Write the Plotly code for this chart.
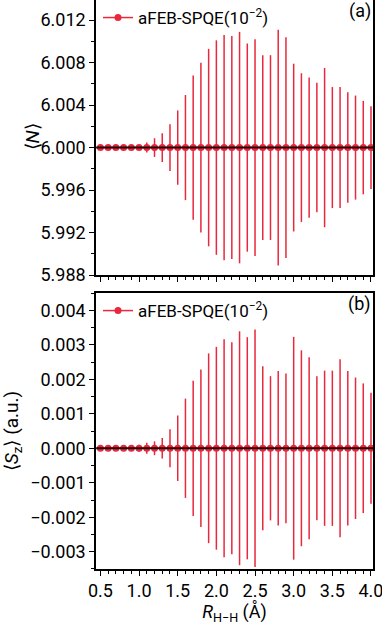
import plotly.graph_objects as go

R = [round(0.5 + 0.1 * i, 1) for i in range(36)]

N_mean = [6.000] * 36
N_err = [0, 0, 0, 0, 0, 0.0002, 0.00047, 0.00088, 0.00135, 0.0022, 0.0035, 0.00495,
         0.0068, 0.0080, 0.0093, 0.0101, 0.0106, 0.0105, 0.0109, 0.0098, 0.0102, 0.0087,
         0.0087, 0.0111, 0.0104, 0.0079, 0.0070, 0.0066, 0.0061, 0.0075, 0.0057, 0.0057,
         0.0052, 0.0049, 0.0044, 0.0039]

Sz_mean = [0.0] * 36
Sz_err = [0, 0, 0, 0, 0, 0.0001, 0.00016, 0.0002, 0.0003, 0.00055, 0.00095, 0.00144,
          0.00196, 0.00228, 0.00275, 0.00294, 0.00316, 0.00307, 0.00339, 0.00322, 0.00344,
          0.00238, 0.00209, 0.00224, 0.00217, 0.00323, 0.00284, 0.00264, 0.00209, 0.00225,
          0.00225, 0.00258, 0.00224, 0.00205, 0.00188, 0.00161]

x_ticks = [0.5, 1.0, 1.5, 2.0, 2.5, 3.0, 3.5, 4.0]
x_ticktext = ["0.5", "1.0", "1.5", "2.0", "2.5", "3.0", "3.5", "4.0"]

series_name = "aFEB-SPQE(10<sup>−2</sup>)"
RED = "#e8283c"
FONT = "Roboto"
XR = [0.443, 4.026]

fig = go.Figure()

fig.add_trace(go.Scatter(
    x=R, y=N_mean, mode="lines+markers", name=series_name,
    line=dict(color=RED, width=1.5), marker=dict(color=RED, size=7),
    error_y=dict(type="data", array=N_err, color=RED, thickness=1.5, width=0),
    xaxis="x", yaxis="y", legend="legend"))
fig.add_trace(go.Scatter(
    x=XR, y=[6.0, 6.0], mode="lines", showlegend=False,
    line=dict(color="black", width=2), opacity=0.85, xaxis="x", yaxis="y"))

fig.add_trace(go.Scatter(
    x=R, y=Sz_mean, mode="lines+markers", name=series_name,
    line=dict(color=RED, width=1.5), marker=dict(color=RED, size=7),
    error_y=dict(type="data", array=Sz_err, color=RED, thickness=1.5, width=0),
    xaxis="x2", yaxis="y2", legend="legend2"))
fig.add_trace(go.Scatter(
    x=XR, y=[0.0, 0.0], mode="lines", showlegend=False,
    line=dict(color="black", width=2), opacity=0.85, xaxis="x2", yaxis="y2"))

axis_common = dict(showline=True, linecolor="black", linewidth=1.5, showgrid=False,
                   zeroline=False, ticks="outside", ticklen=5, tickwidth=1.2,
                   tickcolor="black", ticklabeloverflow="allow",
                   tickfont=dict(family=FONT, size=18, color="black"))

PW = 382 - 96 - 9  # plot width in px

fig.update_layout(
    width=382, height=625,
    margin=dict(l=96, r=9, t=0, b=56),
    paper_bgcolor="white", plot_bgcolor="white",
    font=dict(family=FONT, size=18, color="black"),
    xaxis=dict(domain=[0, 1], range=XR, anchor="y", mirror=False,
               tickmode="array", tickvals=x_ticks, ticktext=x_ticktext, showticklabels=False,
               minor=dict(dtick=0.1, tick0=0.5, ticks="outside", ticklen=3, tickcolor="black"),
               **axis_common),
    yaxis=dict(domain=[0.5167, 1], range=[5.988, 6.0139], anchor="x", mirror=True,
               tick0=5.988, dtick=0.004, tickformat=".3f",
               minor=dict(dtick=0.002, ticks="outside", ticklen=3, tickcolor="black"),
               **axis_common),
    xaxis2=dict(domain=[0, 1], range=XR, anchor="y2", mirror=True,
                tickmode="array", tickvals=x_ticks, ticktext=x_ticktext,
                minor=dict(dtick=0.1, tick0=0.5, ticks="outside", ticklen=3, tickcolor="black"),
                title=dict(text="<i>R</i><sub>H−H</sub> (Å)", standoff=10,
                           font=dict(family=FONT, size=18)),
                **axis_common),
    yaxis2=dict(domain=[0, 0.485], range=[-0.0035, 0.0045], anchor="x2", mirror=True,
                tick0=0, dtick=0.001, tickformat=".3f",
                minor=dict(dtick=0.0005, ticks="outside", ticklen=3, tickcolor="black"),
                title=dict(text="⟨<i>S</i><sub>z</sub>⟩ (a.u.)", standoff=6,
                           font=dict(family=FONT, size=19)),
                **axis_common),
    legend=dict(x=2 / PW, y=1.0, xanchor="left", yanchor="top", bgcolor="rgba(0,0,0,0)",
                font=dict(family=FONT, size=17), tracegroupgap=0),
    legend2=dict(x=2 / PW, y=0.485, xanchor="left", yanchor="top", bgcolor="rgba(0,0,0,0)",
                 font=dict(family=FONT, size=17), tracegroupgap=0),
    annotations=[
        dict(text="⟨<i>N</i>⟩", x=0, xshift=-64, y=(0.5167 + 1) / 2, xref="paper",
             yref="paper", xanchor="center", yanchor="middle", textangle=-90,
             showarrow=False, font=dict(family=FONT, size=19)),
        dict(text="(a)", x=1, y=1, xref="paper", yref="paper", xanchor="right",
             yanchor="top", showarrow=False, font=dict(family=FONT, size=18), xshift=0, yshift=2),
        dict(text="(b)", x=1, y=0.485, xref="paper", yref="paper", xanchor="right",
             yanchor="top", showarrow=False, font=dict(family=FONT, size=18), xshift=0, yshift=2),
    ],
)

fig.write_html("out.html")
